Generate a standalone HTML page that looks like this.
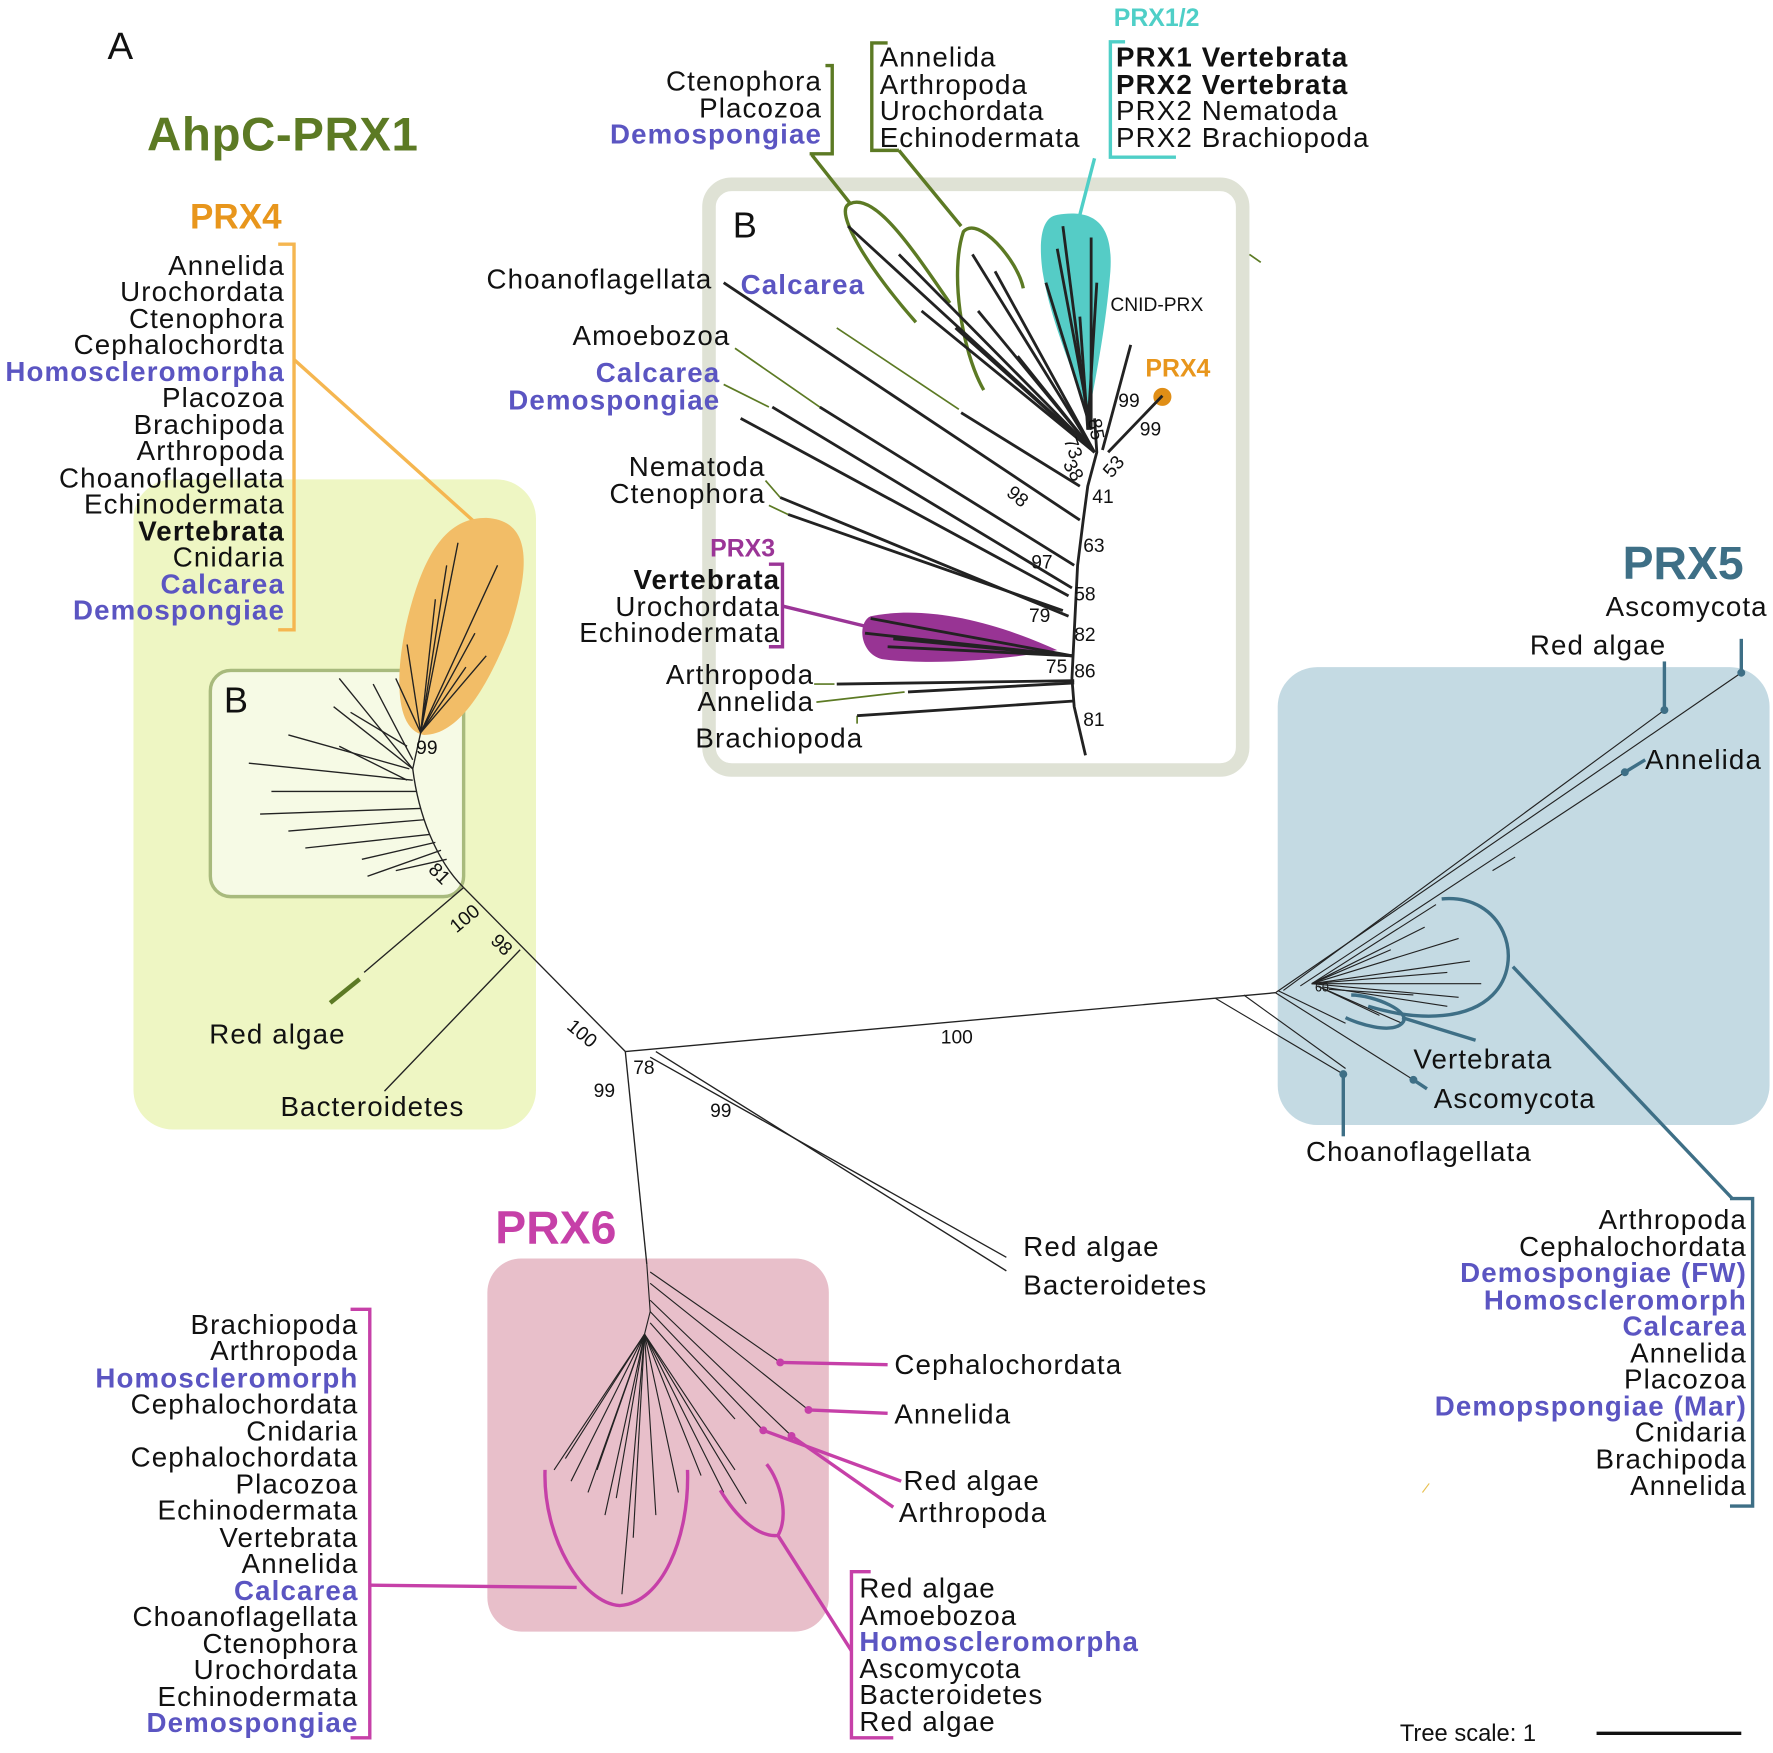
<!DOCTYPE html>
<html><head><meta charset="utf-8"><style>
html,body{margin:0;padding:0;background:#fff;}
svg{display:block;}
text{font-family:"Liberation Sans",Arial,sans-serif;}
.t{font-size:24.5px;fill:#111;letter-spacing:1px;}
.p{fill:#5b55c2;font-weight:bold;}
.b{font-weight:bold;}
.n{font-size:17px;fill:#111;}
</style></head><body>
<svg width="1773" height="1753" viewBox="0 0 1568 1550.4" xmlns="http://www.w3.org/2000/svg">
<rect width="1568" height="1551" fill="#fff"/>
<rect x="118" y="424" width="356" height="575" rx="35" fill="#eef6c3"/>
<rect x="1130" y="590" width="435" height="405" rx="35" fill="#c4dae3"/>
<rect x="431" y="1113" width="302" height="330" rx="30" fill="#e8bfca"/>
<rect x="186" y="593" width="224" height="200" rx="18" fill="#f6fae5" stroke="#a8ba7d" stroke-width="3"/>
<rect x="627" y="163" width="472" height="518" rx="20" fill="#fff" stroke="#dfe2d5" stroke-width="12"/>

<text x="95" y="52" font-size="34" fill="#111">A</text>
<text x="130" y="133" font-size="42" font-weight="bold" fill="#5c7a24" letter-spacing="0.5">AhpC-PRX1</text>

<text x="168" y="202" font-size="31" font-weight="bold" fill="#e8961c">PRX4</text>
<g class="t" text-anchor="end">
<text x="252" y="243">Annelida</text><text x="252" y="266">Urochordata</text><text x="252" y="290">Ctenophora</text><text x="252" y="313">Cephalochordta</text>
<text x="252" y="337" class="p">Homoscleromorpha</text><text x="252" y="360">Placozoa</text><text x="252" y="384">Brachipoda</text><text x="252" y="407">Arthropoda</text>
<text x="252" y="431">Choanoflagellata</text><text x="252" y="454">Echinodermata</text><text x="252" y="478" class="b">Vertebrata</text><text x="252" y="501">Cnidaria</text>
<text x="252" y="525" class="p">Calcarea</text><text x="252" y="548" class="p">Demospongiae</text>
</g>
<path d="M246,216 H260 V557 H246" fill="none" stroke="#f5b650" stroke-width="3"/>
<line x1="260" y1="318" x2="420" y2="462" stroke="#f5b650" stroke-width="3"/>

<path d="M430,458 C470,460 470,500 450,560 C430,610 405,650 375,650 C345,645 350,580 365,530 C380,480 400,458 430,458Z" fill="#f2bd67"/>
<g stroke="#222" stroke-width="1.2" fill="none">
<line x1="372" y1="648" x2="405" y2="480"/><line x1="372" y1="648" x2="440" y2="500"/><line x1="372" y1="648" x2="430" y2="580"/>
<line x1="372" y1="648" x2="395" y2="500"/><line x1="372" y1="648" x2="420" y2="560"/><line x1="372" y1="648" x2="360" y2="570"/>
<line x1="372" y1="648" x2="385" y2="530"/><line x1="372" y1="648" x2="412" y2="590"/><line x1="372" y1="648" x2="350" y2="600"/>
<path d="M410,785 C385,760 370,720 365,680 L372,648"/>
<line x1="365" y1="680" x2="300" y2="600"/><line x1="365" y1="680" x2="295" y2="625"/><line x1="365" y1="672" x2="330" y2="605"/>
<line x1="362" y1="680" x2="255" y2="650"/><line x1="365" y1="690" x2="220" y2="675"/><line x1="368" y1="700" x2="240" y2="700"/>
<line x1="372" y1="715" x2="230" y2="720"/><line x1="375" y1="725" x2="255" y2="735"/><line x1="380" y1="738" x2="270" y2="750"/>
<line x1="385" y1="745" x2="320" y2="760"/><line x1="390" y1="752" x2="325" y2="775"/><line x1="395" y1="760" x2="350" y2="770"/>
<line x1="360" y1="690" x2="300" y2="660"/><line x1="360" y1="660" x2="310" y2="630"/>
<line x1="410" y1="785" x2="553" y2="930"/>
<line x1="410" y1="785" x2="322" y2="860"/>
<line x1="460" y1="840" x2="340" y2="965"/>
<line x1="553" y1="930" x2="1128" y2="878"/>
<line x1="553" y1="930" x2="572" y2="1118"/>
<line x1="575" y1="935" x2="890" y2="1112"/><line x1="580" y1="930" x2="890" y2="1124"/>
</g>
<line x1="318" y1="866" x2="292" y2="887" stroke="#5c7a24" stroke-width="4"/>
<text x="185" y="923" class="t">Red algae</text>
<text x="248" y="987" class="t">Bacteroidetes</text>
<text x="198" y="630" font-size="32" fill="#111">B</text>
<g class="n" font-size="20">
<text x="368" y="667">99</text>
<text x="380" y="775" transform="rotate(45 385 770)">81</text>
<text x="395" y="818" transform="rotate(-40 410 810)">100</text>
<text x="435" y="842" transform="rotate(45 445 835)">98</text>
<text x="500" y="920" transform="rotate(40 515 915)">100</text>
<text x="525" y="970">99</text><text x="560" y="950">78</text><text x="628" y="988">99</text>
<text x="832" y="923">100</text>
</g>
<text x="905" y="1111" class="t">Red algae</text>
<text x="905" y="1145" class="t">Bacteroidetes</text>

<text x="648" y="210" font-size="32" fill="#111">B</text>
<text x="630" y="255" class="t" text-anchor="end">Choanoflagellata</text>
<text x="655" y="260" class="t p">Calcarea</text>
<text x="646" y="305" class="t" text-anchor="end">Amoebozoa</text>
<text x="637" y="338" class="t p" text-anchor="end">Calcarea</text>
<text x="637" y="362" class="t p" text-anchor="end">Demospongiae</text>
<text x="677" y="421" class="t" text-anchor="end">Nematoda</text>
<text x="677" y="445" class="t" text-anchor="end">Ctenophora</text>
<text x="628" y="492" font-size="22" font-weight="bold" fill="#9b3597">PRX3</text>
<text x="690" y="521" class="t b" text-anchor="end">Vertebrata</text>
<text x="690" y="545" class="t" text-anchor="end">Urochordata</text>
<text x="690" y="568" class="t" text-anchor="end">Echinodermata</text>
<path d="M680,499 H692 V572 H680" fill="none" stroke="#9b3597" stroke-width="3"/>
<line x1="692" y1="536" x2="770" y2="555" stroke="#9b3597" stroke-width="3"/>
<text x="720" y="605" class="t" text-anchor="end">Arthropoda</text>
<text x="720" y="629" class="t" text-anchor="end">Annelida</text>
<text x="615" y="661" class="t">Brachiopoda</text>
<text x="982" y="275" font-size="17" fill="#111">CNID-PRX</text>
<text x="1013" y="333" font-size="22" font-weight="bold" fill="#e8961c">PRX4</text>
<circle cx="1028" cy="351" r="8" fill="#e08e16"/>
<path d="M935,190 C965,185 985,195 982,240 C978,290 968,340 962,370 C955,340 930,290 922,240 C918,210 922,192 935,190Z" fill="#55ccc6"/>
<path d="M770,545 C820,535 880,550 935,575 C880,585 820,588 780,583 C760,578 758,550 770,545Z" fill="#983494"/>
<g stroke="#5c7a24" fill="none">
<path d="M810,285 C770,240 735,185 752,180 C775,170 810,225 840,268" stroke-width="3"/>
<path d="M870,345 C850,310 840,240 852,205 C865,190 900,230 905,255" stroke-width="3"/>
<path d="M730,58 H736 V136 H716" stroke-width="3"/>
<line x1="718" y1="137" x2="752" y2="180" stroke-width="3"/>
<path d="M785,38 H771 V133 H795" stroke-width="3"/>
<line x1="795" y1="133" x2="850" y2="200" stroke-width="3"/>
<g stroke-width="1.5">
<line x1="740" y1="290" x2="848" y2="362"/><line x1="650" y1="308" x2="725" y2="360"/>
<line x1="640" y1="340" x2="680" y2="360"/><line x1="677" y1="425" x2="690" y2="440"/><line x1="680" y1="447" x2="697" y2="455"/>
<line x1="720" y1="605" x2="738" y2="605"/><line x1="722" y1="621" x2="800" y2="612"/><line x1="758" y1="640" x2="758" y2="633"/>
<line x1="1105" y1="225" x2="1115" y2="232"/>
</g>
</g>
<g stroke="#222" stroke-width="2.5" fill="none">
<path d="M960,668 L950,625 L948,600 L950,560 L953,500 L958,460 L962,430 L970,400 L968,370"/>
<line x1="640" y1="250" x2="955" y2="460"/>
<line x1="725" y1="360" x2="950" y2="500"/>
<line x1="683" y1="360" x2="948" y2="520"/>
<line x1="655" y1="370" x2="945" y2="527"/>
<line x1="690" y1="440" x2="945" y2="545"/>
<line x1="697" y1="455" x2="940" y2="540"/>
<line x1="850" y1="365" x2="955" y2="430"/>
<line x1="740" y1="605" x2="950" y2="602"/><line x1="803" y1="612" x2="950" y2="604"/><line x1="758" y1="633" x2="950" y2="620"/>
<line x1="770" y1="547" x2="948" y2="580"/><line x1="765" y1="560" x2="948" y2="580"/><line x1="785" y1="572" x2="948" y2="580"/>
<line x1="790" y1="565" x2="948" y2="580"/>
<line x1="1000" y1="305" x2="975" y2="398"/><line x1="1028" y1="350" x2="980" y2="400"/>
<line x1="968" y1="400" x2="815" y2="275"/><line x1="968" y1="400" x2="750" y2="200"/><line x1="968" y1="400" x2="795" y2="225"/>
<line x1="968" y1="400" x2="860" y2="225"/><line x1="968" y1="400" x2="880" y2="240"/><line x1="968" y1="400" x2="865" y2="275"/>
<line x1="968" y1="400" x2="845" y2="290"/><line x1="968" y1="400" x2="900" y2="315"/>
<line x1="965" y1="380" x2="925" y2="250"/><line x1="965" y1="380" x2="935" y2="220"/><line x1="963" y1="380" x2="940" y2="200"/>
<line x1="965" y1="380" x2="965" y2="210"/><line x1="962" y1="380" x2="970" y2="250"/><line x1="962" y1="380" x2="955" y2="280"/>
</g>
<g class="n" font-size="17">
<text x="989" y="360">99</text><text x="1008" y="385">99</text>
<text x="966" y="445">41</text><text x="958" y="488">63</text><text x="912" y="503">97</text>
<text x="950" y="531">58</text><text x="910" y="550">79</text><text x="950" y="567">82</text>
<text x="925" y="595">75</text><text x="950" y="599">86</text><text x="958" y="642">81</text>
<text x="890" y="445" transform="rotate(40 900 440)">98</text>
<text x="940" y="400" transform="rotate(70 948 395)">73</text>
<text x="940" y="420" transform="rotate(60 948 415)">38</text>
<text x="965" y="382" transform="rotate(80 970 375)">85</text>
<text x="975" y="418" transform="rotate(-50 985 412)">53</text>
</g>

<g class="t" text-anchor="end">
<text x="727" y="80">Ctenophora</text><text x="727" y="104">Placozoa</text><text x="727" y="127" class="p">Demospongiae</text>
</g>
<g class="t">
<text x="778" y="59">Annelida</text><text x="778" y="83">Arthropoda</text><text x="778" y="106">Urochordata</text><text x="778" y="130">Echinodermata</text>
<text x="987" y="59" class="b">PRX1 Vertebrata</text><text x="987" y="83" class="b">PRX2 Vertebrata</text><text x="987" y="106">PRX2 Nematoda</text><text x="987" y="130">PRX2 Brachiopoda</text>
</g>
<text x="985" y="23" font-size="22" font-weight="bold" fill="#4fcfc7">PRX1/2</text>
<path d="M995,37 H982 V139 H1040" fill="none" stroke="#4fcfc7" stroke-width="3"/>
<line x1="968" y1="140" x2="955" y2="190" stroke="#4fcfc7" stroke-width="3"/>

<text x="1435" y="512" font-size="41" font-weight="bold" fill="#3e6f86">PRX5</text>
<text x="1420" y="545" class="t">Ascomycota</text>
<text x="1353" y="579" class="t">Red algae</text>
<text x="1455" y="680" class="t">Annelida</text>
<text x="1250" y="945" class="t">Vertebrata</text>
<text x="1268" y="980" class="t">Ascomycota</text>
<text x="1155" y="1027" class="t">Choanoflagellata</text>
<text x="1163" y="877" font-size="11" fill="#111">60</text>
<g stroke="#222" stroke-width="1" fill="none">
<line x1="1128" y1="878" x2="1540" y2="595"/><line x1="1135" y1="876" x2="1472" y2="628"/><line x1="1150" y1="872" x2="1437" y2="683"/>
<line x1="1160" y1="870" x2="1270" y2="800"/><line x1="1160" y1="870" x2="1290" y2="830"/><line x1="1160" y1="870" x2="1300" y2="850"/>
<line x1="1160" y1="870" x2="1280" y2="860"/><line x1="1160" y1="870" x2="1310" y2="870"/><line x1="1160" y1="870" x2="1260" y2="820"/>
<line x1="1160" y1="870" x2="1290" y2="882"/><line x1="1165" y1="872" x2="1240" y2="905"/><line x1="1165" y1="872" x2="1220" y2="898"/>
<line x1="1160" y1="870" x2="1230" y2="840"/><line x1="1170" y1="873" x2="1280" y2="890"/><line x1="1175" y1="875" x2="1250" y2="880"/>
<line x1="1130" y1="876" x2="1190" y2="905"/><line x1="1128" y1="878" x2="1250" y2="955"/><line x1="1075" y1="883" x2="1188" y2="950"/>
<line x1="1100" y1="880" x2="1190" y2="945"/><line x1="1320" y1="770" x2="1340" y2="758"/>
</g>
<g stroke="#3e6f86" stroke-width="3" fill="none">
<line x1="1540" y1="565" x2="1540" y2="595"/><line x1="1472" y1="585" x2="1472" y2="628"/><line x1="1437" y1="683" x2="1455" y2="672"/>
<line x1="1188" y1="950" x2="1188" y2="1005"/><line x1="1250" y1="955" x2="1262" y2="963"/>
<path d="M1275,795 C1330,790 1350,850 1320,880 C1300,900 1260,905 1210,890"/>
<path d="M1195,880 C1215,880 1250,895 1240,905 C1230,915 1200,905 1190,900"/>
<line x1="1240" y1="900" x2="1305" y2="920"/>
<line x1="1338" y1="855" x2="1532" y2="1060"/>
<path d="M1530,1060 H1550 V1332 H1530"/>
</g>
<g fill="#3e6f86"><circle cx="1540" cy="595" r="3.5"/><circle cx="1472" cy="628" r="3.5"/><circle cx="1437" cy="683" r="3.5"/><circle cx="1188" cy="950" r="3.5"/><circle cx="1250" cy="955" r="3.5"/></g>
<g class="t" text-anchor="end">
<text x="1545" y="1087">Arthropoda</text><text x="1545" y="1111">Cephalochordata</text><text x="1545" y="1134" class="p">Demospongiae (FW)</text>
<text x="1545" y="1158" class="p">Homoscleromorph</text><text x="1545" y="1181" class="p">Calcarea</text><text x="1545" y="1205">Annelida</text>
<text x="1545" y="1228">Placozoa</text><text x="1545" y="1252" class="p">Demopspongiae (Mar)</text><text x="1545" y="1275">Cnidaria</text>
<text x="1545" y="1299">Brachipoda</text><text x="1545" y="1322">Annelida</text>
</g>

<text x="438" y="1100" font-size="41" font-weight="bold" fill="#c640a8">PRX6</text>
<g stroke="#222" stroke-width="1" fill="none">
<path d="M572,1118 L575,1160 L570,1180"/>
<line x1="575" y1="1125" x2="690" y2="1205"/><line x1="575" y1="1135" x2="715" y2="1247"/><line x1="575" y1="1150" x2="700" y2="1270"/>
<line x1="575" y1="1160" x2="675" y2="1265"/><line x1="575" y1="1170" x2="650" y2="1255"/>
<line x1="570" y1="1180" x2="490" y2="1300"/><line x1="570" y1="1180" x2="505" y2="1310"/><line x1="570" y1="1180" x2="520" y2="1320"/>
<line x1="570" y1="1180" x2="535" y2="1340"/><line x1="570" y1="1180" x2="550" y2="1410"/><line x1="570" y1="1180" x2="560" y2="1360"/>
<line x1="570" y1="1180" x2="545" y2="1325"/><line x1="570" y1="1180" x2="500" y2="1290"/><line x1="570" y1="1180" x2="528" y2="1300"/>
<line x1="570" y1="1180" x2="600" y2="1320"/><line x1="570" y1="1180" x2="620" y2="1305"/><line x1="570" y1="1180" x2="640" y2="1320"/>
<line x1="570" y1="1180" x2="660" y2="1330"/><line x1="570" y1="1180" x2="650" y2="1300"/><line x1="570" y1="1180" x2="580" y2="1340"/>
</g>
<g stroke="#c640a8" stroke-width="3" fill="none">
<path d="M482,1300 C480,1360 515,1418 548,1420 C585,1418 610,1360 608,1300"/>
<path d="M637,1318 C650,1340 670,1360 688,1358 C698,1340 690,1310 678,1295"/>
<line x1="690" y1="1205" x2="785" y2="1207"/><line x1="715" y1="1247" x2="785" y2="1250"/>
<line x1="675" y1="1265" x2="797" y2="1310"/><line x1="700" y1="1270" x2="790" y2="1333"/>
<line x1="328" y1="1402" x2="510" y2="1404"/>
<path d="M310,1158 H327 V1537 H310"/>
<line x1="688" y1="1358" x2="753" y2="1460"/>
<path d="M770,1390 H753 V1537 H790"/>
</g>
<g fill="#c640a8"><circle cx="690" cy="1205" r="3.5"/><circle cx="715" cy="1247" r="3.5"/><circle cx="675" cy="1265" r="3.5"/><circle cx="700" cy="1270" r="3.5"/></g>
<g class="t">
<text x="791" y="1215">Cephalochordata</text><text x="791" y="1259">Annelida</text>
<text x="799" y="1318">Red algae</text><text x="795" y="1346">Arthropoda</text>
<text x="760" y="1413">Red algae</text><text x="760" y="1437">Amoebozoa</text><text x="760" y="1460" class="p">Homoscleromorpha</text>
<text x="760" y="1484">Ascomycota</text><text x="760" y="1507">Bacteroidetes</text><text x="760" y="1531">Red algae</text>
</g>
<g class="t" text-anchor="end">
<text x="317" y="1180">Brachiopoda</text><text x="317" y="1203">Arthropoda</text><text x="317" y="1227" class="p">Homoscleromorph</text>
<text x="317" y="1250">Cephalochordata</text><text x="317" y="1274">Cnidaria</text><text x="317" y="1297">Cephalochordata</text>
<text x="317" y="1321">Placozoa</text><text x="317" y="1344">Echinodermata</text><text x="317" y="1368">Vertebrata</text>
<text x="317" y="1391">Annelida</text><text x="317" y="1415" class="p">Calcarea</text><text x="317" y="1438">Choanoflagellata</text>
<text x="317" y="1462">Ctenophora</text><text x="317" y="1485">Urochordata</text><text x="317" y="1509">Echinodermata</text>
<text x="317" y="1532" class="p">Demospongiae</text>
</g>

<text x="1238" y="1540" font-size="21" fill="#111">Tree scale: 1</text>
<line x1="1412" y1="1533" x2="1540" y2="1533" stroke="#111" stroke-width="3"/>
<line x1="1258" y1="1320" x2="1264" y2="1312" stroke="#e8c050" stroke-width="1"/>
</svg>
</body></html>
